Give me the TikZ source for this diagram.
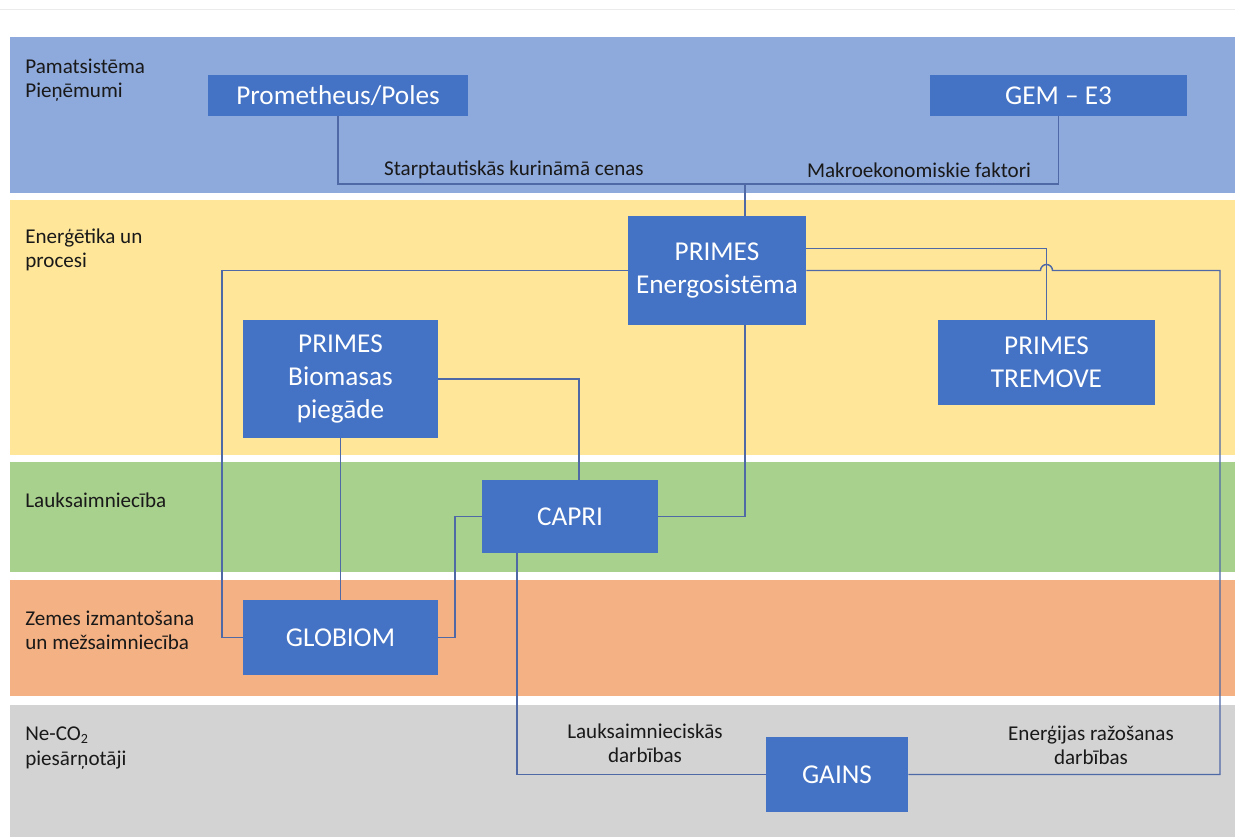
\documentclass[tikz,border=0pt]{standalone}
\usepackage{fontspec}
\setmainfont{Carlito}
\usepackage{tikz}
\usetikzlibrary{positioning,calc}
\definecolor{bandblue}{HTML}{8EA9DB}
\definecolor{bandyellow}{HTML}{FFE699}
\definecolor{bandgreen}{HTML}{A9D18E}
\definecolor{bandorange}{HTML}{F4B183}
\definecolor{bandgray}{HTML}{D3D3D3}
\definecolor{boxblue}{HTML}{4472C4}
\definecolor{lineblue}{HTML}{4F69A6}
\tikzstyle{block} = [rectangle, fill=boxblue, text=white, align=center, inner sep=0pt, font=\fontsize{15.5}{18.8}\selectfont]
\tikzstyle{conn} = [draw=lineblue, line width=0.8pt]
\tikzstyle{bandlabel} = [anchor=west, align=left, inner sep=0pt, text=black!90, font=\fontsize{12}{13.8}\selectfont]
\tikzstyle{flowlabel} = [align=center, inner sep=0pt, text=black!90, font=\fontsize{12}{13.8}\selectfont]

\begin{document}
\begin{tikzpicture}[x=0.02cm, y=-0.02cm]
	\useasboundingbox (0,0) rectangle (1235,837);
	\fill[white] (0,0) rectangle (1235,837);
	\draw[black!8] (0,9) -- (1235,9);
	% bands
	\fill[bandblue] (10,37) rectangle (1235,193);
	\fill[bandyellow] (10,200) rectangle (1235,455);
	\fill[bandgreen] (10,462) rectangle (1235,572);
	\fill[bandorange] (10,580) rectangle (1235,696);
	\fill[bandgray] (10,705) rectangle (1235,837);
	\node[bandlabel] (lbasis) at (25,80) {Pamatsistēma\\Pieņēmumi};
	\node[bandlabel] (lenergy) at (25,250) {Enerģētika un\\procesi};
	\node[bandlabel] (lagri) at (25,500) {Lauksaimniecība};
	\node[bandlabel] (lland) at (25,630) {Zemes izmantošana\\un mežsaimniecība};
	\node[bandlabel] (lnonco) at (25,748) {Ne-CO\textsubscript{2}\\piesārņotāji};
	% models
	\node[block, minimum width=5.2cm, minimum height=0.82cm] (prom) at (338,95.5) {Prometheus/Poles};
	\node[block, minimum width=5.14cm, minimum height=0.82cm] (gem) at (1058.5,95.5) {GEM -- E3};
	\node[block, minimum width=3.56cm, minimum height=2.18cm] (energo) at (717,270.5) {PRIMES\\Energosistēma};
	\node[block, minimum width=3.9cm, minimum height=2.36cm] (bio) at (340.5,379) {PRIMES\\Biomasas\\piegāde};
	\node[block, minimum width=4.34cm, minimum height=1.7cm] (tremove) at (1046.5,362.5) {PRIMES\\TREMOVE};
	\node[block, minimum width=3.52cm, minimum height=1.46cm] (capri) at (570,516.5) {CAPRI};
	\node[block, minimum width=3.9cm, minimum height=1.5cm] (globiom) at (340.5,637.5) {GLOBIOM};
	\node[block, minimum width=2.84cm, minimum height=1.5cm] (gains) at (837,774.5) {GAINS};
	% links
	\coordinate (join) at (745,184);
	\draw[conn] (prom.south) |- (join);
	\draw[conn] (gem.south) |- (join);
	\draw[conn] (join) -- ($(energo.north)+(28,0)$);
	\node[flowlabel] (fuel) at (514,170) {Starptautiskās kurināmā cenas};
	\node[flowlabel] (macro) at (919,170) {Makroekonomiskie faktori};
	\draw[conn] ($(energo.east)+(0,-22)$) -| (tremove.north);
	\coordinate (hop) at (tremove.north |- energo.east);
	\draw[conn] (energo.east) -- ([xshift=-0.12cm]hop) arc[start angle=180, end angle=0, radius=0.12cm] -- (1220,270.5) |- (gains.east);
	\draw[conn] (energo.west) -- (222,270.5) |- (globiom.west);
	\draw[conn] ($(energo.south)+(28,0)$) |- (capri.east);
	\draw[conn] (bio.east) -| ($(capri.north)+(9,0)$);
	\draw[conn] (bio.south) -- (globiom.north);
	\draw[conn] (globiom.east) -- (455,637.5) |- (capri.west);
	\draw[conn] ($(capri.south)+(-53,0)$) |- (gains.west);
	\node[flowlabel] (agriact) at (645,743) {Lauksaimnieciskās\\darbības};
	\node[flowlabel] (enact) at (1091,745) {Enerģijas ražošanas\\darbības};
\end{tikzpicture}
\end{document}
